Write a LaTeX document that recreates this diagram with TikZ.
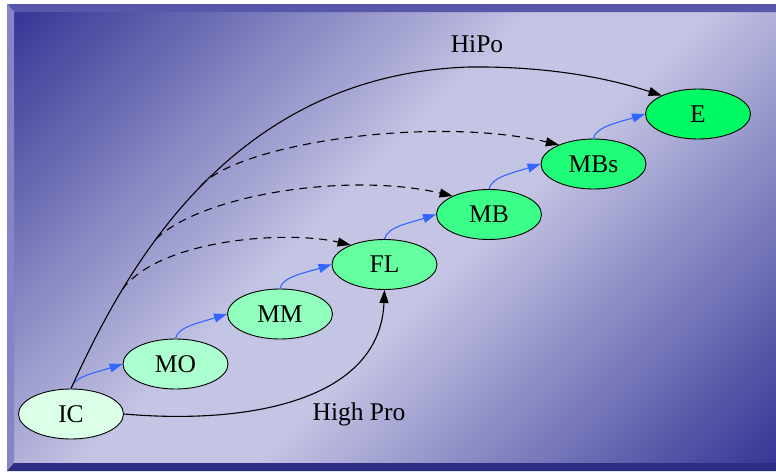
\documentclass[tikz,border=0pt]{standalone}
\usepackage{fontspec}
\setmainfont{Liberation Serif}
\usetikzlibrary{arrows.meta,shapes.geometric}

\definecolor{bgdark}{RGB}{54,54,150}
\definecolor{bglight}{RGB}{196,196,228}
\definecolor{frametop}{RGB}{88,88,170}
\definecolor{frameleft}{RGB}{132,132,198}
\definecolor{framebot}{RGB}{44,44,128}
\definecolor{stepblue}{RGB}{51,102,255}
\definecolor{fillic}{RGB}{220,255,232}
\definecolor{fillmo}{RGB}{172,255,206}
\definecolor{fillmm}{RGB}{145,255,190}
\definecolor{fillfl}{RGB}{102,255,160}
\definecolor{fillmb}{RGB}{60,255,138}
\definecolor{fillmbs}{RGB}{30,252,120}
\definecolor{fille}{RGB}{0,250,100}
\pgfdeclareverticalshading{bgshade}{100bp}{color(0bp)=(bgdark); color(14.6bp)=(bgdark); color(45bp)=(bglight); color(55bp)=(bglight); color(85.4bp)=(bgdark); color(100bp)=(bgdark)}

\begin{document}
\begin{tikzpicture}[x=1pt,y=-1pt,line width=1.1pt,
  stage/.style={ellipse,draw=black,line width=.9pt,minimum width=105pt,minimum height=50pt,inner sep=0pt,font=\fontsize{25.5}{28}\selectfont},
  lbl/.style={inner sep=0pt,font=\fontsize{25.5}{28}\selectfont},
  stepedge/.style={stepblue,-{Triangle[length=13pt,width=9pt]}},
  jumpedge/.style={black,-{Triangle[length=13pt,width=9pt]}},
  skipedge/.style={black,dash pattern=on 8pt off 6pt,-{Triangle[length=13pt,width=9pt]}}]
\path[use as bounding box] (0,0) rectangle (776,471);
% background and frame
\shade[shading=bgshade,shading angle=45] (14,12) rectangle (776,463);
\fill[frametop] (7,4) -- (776,4) -- (776,12) -- (14,12) -- cycle;
\fill[frameleft] (7,4) -- (14,12) -- (14,463) -- (7,471) -- cycle;
\fill[framebot] (7,471) -- (14,463) -- (776,463) -- (776,471) -- cycle;
% stages
\node[stage,fill=fillic] (IC) at (71,414) {IC};
\node[stage,fill=fillmo] (MO) at (175.5,364) {MO};
\node[stage,fill=fillmm] (MM) at (280,314) {MM};
\node[stage,fill=fillfl] (FL) at (384.5,264.5) {FL};
\node[stage,fill=fillmb] (MB) at (489,214.5) {MB};
\node[stage,fill=fillmbs] (MBs) at (593.5,164) {MBs};
\node[stage,fill=fille] (E) at (698,114) {E};
% step by step
\draw[stepedge] (IC.north) .. controls +(2,-12) and +(-25,8) .. (MO.west);
\draw[stepedge] (MO.north) .. controls +(2,-12) and +(-25,8) .. (MM.west);
\draw[stepedge] (MM.north) .. controls +(2,-12) and +(-25,8) .. (FL.west);
\draw[stepedge] (FL.north) .. controls +(2,-12) and +(-25,8) .. (MB.west);
\draw[stepedge] (MB.north) .. controls +(2,-12) and +(-25,8) .. (MBs.west);
\draw[stepedge] (MBs.north) .. controls +(2,-12) and +(-25,8) .. (E.west);
% long jumps
\draw[jumpedge] (IC.north) .. controls (125,270) and (230,75) .. (469,67)
  coordinate[pos=.25] (h1) coordinate[pos=.37] (h2) coordinate[pos=.5] (h3)
  .. controls (560,66) and (620,82) .. (E.153);
\draw[jumpedge] (IC.east) .. controls (250,425) and (380,400) .. (FL.south);
\draw[skipedge] (h1) .. controls +(37,-50) and +(-65,-15) .. (FL.150);
\draw[skipedge] (h2) .. controls +(47,-45) and +(-103,-24) .. (MB.153);
\draw[skipedge] (h3) .. controls +(35,-42) and +(-129,-30) .. (MBs.151);
\node[lbl] (hipo) at (477,44.5) {HiPo};
\node[lbl] (highpro) at (359,414) {High Pro};
\end{tikzpicture}
\end{document}
